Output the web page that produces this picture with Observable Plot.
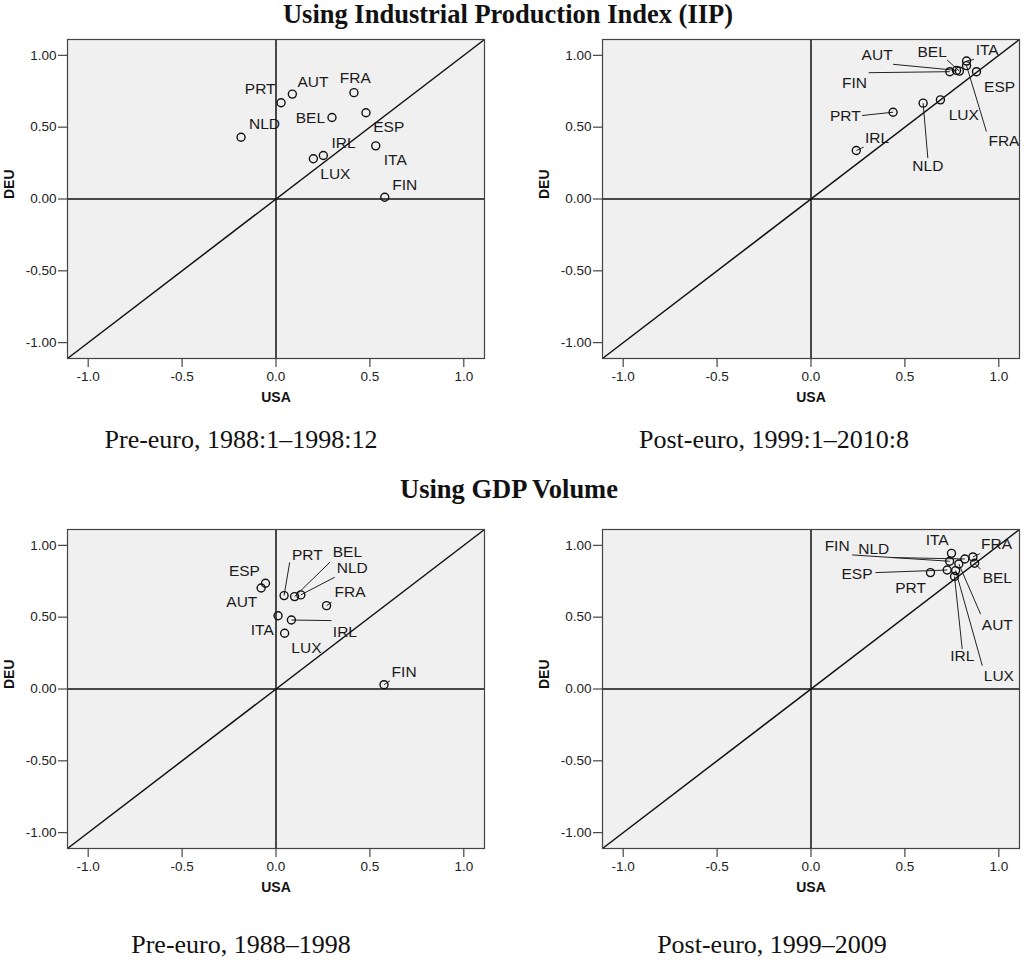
<!DOCTYPE html>
<html>
<head>
<meta charset="utf-8">
<script src="https://cdn.jsdelivr.net/npm/d3@7"></script>
<script src="https://cdn.jsdelivr.net/npm/@observablehq/plot@0.6"></script>
<style>
  body { margin: 0; background: #fff; }
  #page { position: relative; width: 1024px; height: 962px; overflow: hidden; }
  .panel { position: absolute; }
  .title, .caption {
    position: absolute; width: 500px; text-align: center;
    font-family: "Liberation Serif", "DejaVu Serif", serif; color: #111;
  }
  .title { font-weight: bold; font-size: 26.5px; line-height: 26.5px; }
  .caption { font-size: 26px; line-height: 26px; }
</style>
</head>
<body>
<div id="page">
  <div class="title" style="left:258px;top:1px">Using Industrial Production Index (IIP)</div>
  <div class="caption" style="left:-9px;top:427px">Pre-euro, 1988:1–1998:12</div>
  <div class="caption" style="left:524px;top:427px">Post-euro, 1999:1–2010:8</div>
  <div class="title" style="left:259px;top:476px">Using GDP Volume</div>
  <div class="caption" style="left:-9px;top:932px">Pre-euro, 1988–1998</div>
  <div class="caption" style="left:522px;top:932px">Post-euro, 1999–2009</div>
  <div class="panel" id="p1" style="left:0;top:0"></div>
  <div class="panel" id="p2" style="left:535px;top:0"></div>
  <div class="panel" id="p3" style="left:0;top:490px"></div>
  <div class="panel" id="p4" style="left:535px;top:490px"></div>
</div>
<script>
// countries, same order in every panel
const countries = ["AUT", "BEL", "ESP", "FIN", "FRA", "IRL", "ITA", "LUX", "NLD", "PRT"];

// correlations with USA (x) and DEU (y)
const iipPreUSA  = [0.087, 0.298, 0.479, 0.579, 0.415, 0.252, 0.531, 0.199, -0.186, 0.027];
const iipPreDEU  = [0.73, 0.567, 0.60, 0.012, 0.74, 0.303, 0.37, 0.28, 0.43, 0.67];
const iipPostUSA = [0.775, 0.79, 0.881, 0.739, 0.828, 0.241, 0.828, 0.689, 0.597, 0.437];
const iipPostDEU = [0.895, 0.89, 0.886, 0.886, 0.928, 0.3375, 0.96, 0.69, 0.667, 0.604];
const gdpPreUSA  = [-0.079, 0.099, -0.056, 0.575, 0.269, 0.082, 0.011, 0.046, 0.132, 0.043];
const gdpPreDEU  = [0.703, 0.643, 0.736, 0.03, 0.58, 0.48, 0.51, 0.388, 0.655, 0.65];
const gdpPostUSA = [0.787, 0.871, 0.725, 0.738, 0.862, 0.764, 0.748, 0.77, 0.819, 0.636];
const gdpPostDEU = [0.87, 0.875, 0.828, 0.889, 0.919, 0.783, 0.944, 0.824, 0.905, 0.81];

const xTicks = [-1, -0.5, 0, 0.5, 1];
const yTicks = [-1, -0.5, 0, 0.5, 1];

// label placement (data units): [labelX, labelY, leaderEndX, leaderEndY]
const iipPreLabels = [
  [0.197, 0.817], [0.183, 0.5625], [0.600, 0.50], [0.685, 0.099], [0.422, 0.840],
  [0.360, 0.389], [0.635, 0.273], [0.316, 0.176], [-0.061, 0.521], [-0.084, 0.764]
];
const iipPostLabels = [
  [0.352, 1.002, 0.437, 0.9375], [0.645, 1.025, 0.725, 0.967], [1.004, 0.782],
  [0.232, 0.806, 0.307, 0.879], [1.027, 0.40, 0.934, 0.469], [0.352, 0.424, 0.280, 0.361],
  [0.938, 1.037, 0.867, 0.972], [0.813, 0.585], [0.622, 0.226, 0.622, 0.285],
  [0.183, 0.578, 0.272, 0.581]
];
const gdpPreLabels = [
  [-0.182, 0.604], [0.380, 0.952, 0.287, 0.882], [-0.168, 0.824], [0.682, 0.116, 0.607, 0.058],
  [0.394, 0.673, 0.296, 0.604], [0.367, 0.399, 0.296, 0.476], [-0.073, 0.413], [0.162, 0.283],
  [0.406, 0.843, 0.313, 0.778], [0.167, 0.933, 0.073, 0.882]
];
const gdpPostLabels = [
  [0.992, 0.444, 0.903, 0.521], [0.992, 0.771, 0.903, 0.833], [0.245, 0.803, 0.343, 0.810],
  [0.139, 0.995, 0.219, 0.933], [0.988, 1.007, 0.899, 0.942], [0.805, 0.231, 0.805, 0.278],
  [0.672, 1.035], [1.0, 0.092, 0.912, 0.162], [0.334, 0.977, 0.423, 0.915], [0.530, 0.706]
];

const domain = [-1.11, 1.11];

function panel(usa, deu, labels) {
  const rows = countries.map((c, i) => ({
    name: c, x: usa[i], y: deu[i],
    lx: labels[i][0], ly: labels[i][1], ex: labels[i][2], ey: labels[i][3]
  }));
  const leaders = rows.filter(d => d.ex !== undefined);
  return Plot.plot({
    width: 489,
    height: 419,
    marginLeft: 67,
    marginRight: 5,
    marginTop: 39,
    marginBottom: 61,
    x: {domain},
    y: {domain},
    style: {fontFamily: "Liberation Sans, Arial, sans-serif", fontSize: "13px", color: "#222", background: "transparent", overflow: "visible"},
    marks: [
      Plot.frame({fill: "#f0f0f0"}),
      Plot.axisX({ticks: xTicks, tickFormat: d => d.toFixed(1), tickSize: 9, tickPadding: 4, label: null, fontSize: 13.5}),
      Plot.axisY({ticks: yTicks, tickFormat: d => d.toFixed(2), tickSize: 9, tickPadding: 2, label: null, fontSize: 13.5}),
      Plot.ruleX([0], {stroke: "#111", strokeWidth: 1.5}),
      Plot.ruleY([0], {stroke: "#111", strokeWidth: 1.5}),
      Plot.link([domain], {x1: d => d[0], y1: d => d[0], x2: d => d[1], y2: d => d[1], stroke: "#111", strokeWidth: 1.5}),
      Plot.link(leaders, {x1: "x", y1: "y", x2: "ex", y2: "ey", stroke: "#222", strokeWidth: 1}),
      Plot.dot(rows, {x: "x", y: "y", r: 4, stroke: "#111", strokeWidth: 1.4, fill: "none"}),
      Plot.text(rows, {x: "lx", y: "ly", text: "name", fontSize: 15.5, fill: "#1a1a1a"}),
      Plot.text(["USA"], {frameAnchor: "bottom", dy: 43, fontSize: 14, fontWeight: "bold", fill: "#111"}),
      Plot.text(["DEU"], {frameAnchor: "left", dx: -58, rotate: -90, fontSize: 14, fontWeight: "bold", fill: "#111"}),
      Plot.frame({stroke: "#444", strokeWidth: 1.2})
    ]
  });
}

document.getElementById("p1").append(panel(iipPreUSA, iipPreDEU, iipPreLabels));
document.getElementById("p2").append(panel(iipPostUSA, iipPostDEU, iipPostLabels));
document.getElementById("p3").append(panel(gdpPreUSA, gdpPreDEU, gdpPreLabels));
document.getElementById("p4").append(panel(gdpPostUSA, gdpPostDEU, gdpPostLabels));
</script>
</body>
</html>
